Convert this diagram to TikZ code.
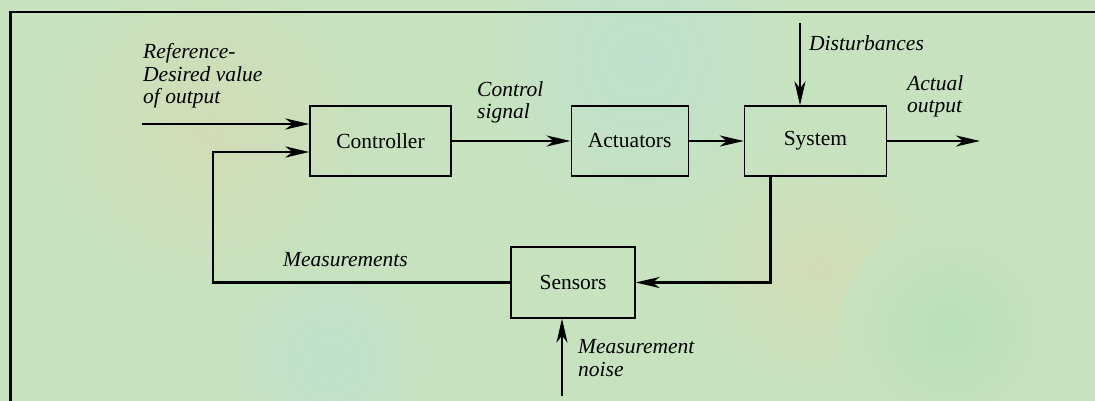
\documentclass[tikz,border=0pt]{standalone}
\usepackage{fontspec}
\setmainfont{Liberation Serif}
\usetikzlibrary{positioning, calc, arrows.meta}

\definecolor{bgmain}{RGB}{199,226,190}
\definecolor{bgtan}{RGB}{210,220,182}
\definecolor{bgblue}{RGB}{190,225,205}
\definecolor{bggreen}{RGB}{185,224,185}

\tikzset{
  block/.style={draw, rectangle, line width=1.2pt, minimum height=70pt, inner sep=0pt,
                font=\fontsize{21.5}{23}\selectfont},
  sig/.style={line width=2.8pt, -{Stealth[length=24pt, width=11pt, inset=7pt]}},
  lbl/.style={align=left, inner sep=0pt, anchor=base west,
              font=\fontsize{21.5}{22.5}\selectfont\itshape},
}

\begin{document}
\begin{tikzpicture}[x=1pt, y=-1pt]
  % background
  \useasboundingbox (0,0) rectangle (1095,401);
  \fill[bgmain] (0,0) rectangle (1095,401);
  \begin{scope}
    \clip (0,0) rectangle (1095,401);
    \shade[inner color=bgtan, outer color=bgmain] (210,130) circle (160);
    \shade[inner color=bgblue, outer color=bgmain] (640,60) circle (170);
    \shade[inner color=bgtan, outer color=bgmain] (820,270) circle (120);
    \shade[inner color=bggreen, outer color=bgmain] (950,330) circle (110);
    \shade[inner color=bgblue, outer color=bgmain] (330,360) circle (110);
  \end{scope}
  \draw[line width=2pt] (1095,12) -- (10,12);
  \draw[line width=3pt] (10,11) -- (10,401);

  % blocks
  \node[block, minimum width=141pt] (ctrl) at (380.5,141) {Controller};
  \node[block, minimum width=117pt] (act) [right=119pt of ctrl] {Actuators};
  \node[block, minimum width=142pt] (sys) [right=55pt of act] {System};
  \node[block, minimum width=124pt, minimum height=71pt] (sens) at (573,282.5) {Sensors};

  % free ends
  \coordinate (ref) at (142,124);
  \coordinate (fb) at (213,152);
  \coordinate (out) at (980,141);
  \coordinate (dist) at (800,23);
  \coordinate (noise) at (562,396);

  % signals
  \draw[sig] (ref) -- (ref -| ctrl.west);
  \draw[sig] (ctrl) -- (act);
  \draw[sig] (act) -- (sys);
  \draw[sig] (sys) -- (out);
  \draw[sig] (dist) -- (dist |- sys.north);
  \draw[sig] ([xshift=-45pt]sys.south) |- (sens.east);
  \draw[sig] (sens.west) -| (fb) -- (fb -| ctrl.west);
  \draw[sig] (noise) -- (noise |- sens.south);

  % labels
  \node[lbl] (reflbl) at (143,104) {Reference-\\Desired value\\of output};
  \node[lbl] (ctrllbl) at (477,119) {Control\\signal};
  \node[lbl] (distlbl) at (809,51) {Disturbances};
  \node[lbl] (outlbl) at (907,113) {Actual\\output};
  \node[lbl] (measlbl) at (283,266) {Measurements};
  \node[lbl] (noiselbl) at (578,376) {Measurement\\noise};
\end{tikzpicture}
\end{document}
